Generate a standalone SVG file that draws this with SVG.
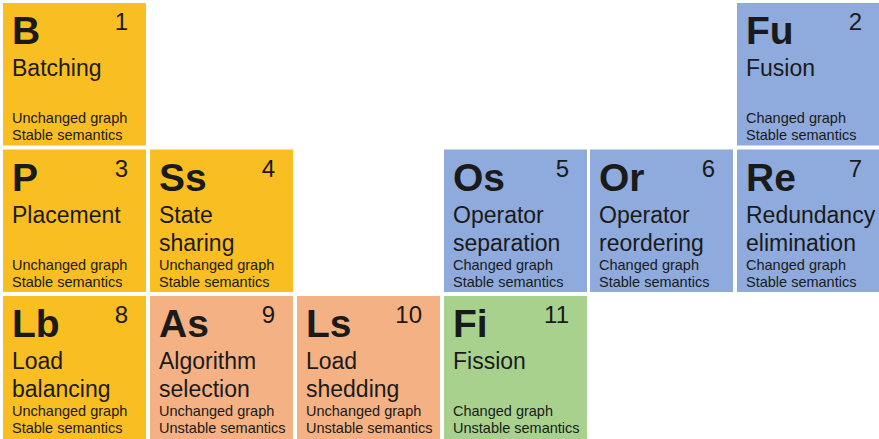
<svg xmlns="http://www.w3.org/2000/svg" width="879" height="439" viewBox="0 0 879 439">
<style>
.c{stroke:none}
.y{fill:#F9BE21}
.b{fill:#8FAADC}
.o{fill:#F4B183}
.g{fill:#A9D18E}
text{font-family:"Liberation Sans",Arial,sans-serif;fill:#1a1a1a}
.s{font-size:39px;font-weight:bold}
.n{font-size:24px;text-anchor:end}
.m{font-size:23px}
.t{font-size:14.5px}
</style>
<rect width="879" height="439" fill="#ffffff"/>
<g id="B" transform="translate(3,3)"><rect class="c y" width="143" height="142.5"/><text class="s" x="9" y="41">B</text><text class="n" x="125" y="27">1</text><text class="m" x="9" y="73">Batching</text><text class="t" x="9" y="120">Unchanged graph</text><text class="t" x="9" y="137">Stable semantics</text></g>
<g id="Fu" transform="translate(737,3)"><rect class="c b" width="142" height="142.5"/><text class="s" x="9" y="41">Fu</text><text class="n" x="125" y="27">2</text><text class="m" x="9" y="73">Fusion</text><text class="t" x="9" y="120">Changed graph</text><text class="t" x="9" y="137">Stable semantics</text></g>
<g id="P" transform="translate(3,149.5)"><rect class="c y" width="143" height="142.5"/><text class="s" x="9" y="41">P</text><text class="n" x="125" y="27">3</text><text class="m" x="9" y="73">Placement</text><text class="t" x="9" y="120">Unchanged graph</text><text class="t" x="9" y="137">Stable semantics</text></g>
<g id="Ss" transform="translate(150,149.5)"><rect class="c y" width="143" height="142.5"/><text class="s" x="9" y="41">Ss</text><text class="n" x="125" y="27">4</text><text class="m" x="9" y="73">State</text><text class="m" x="9" y="101">sharing</text><text class="t" x="9" y="120">Unchanged graph</text><text class="t" x="9" y="137">Stable semantics</text></g>
<g id="Os" transform="translate(444,149.5)"><rect class="c b" width="143" height="142.5"/><text class="s" x="9" y="41">Os</text><text class="n" x="125" y="27">5</text><text class="m" x="9" y="73">Operator</text><text class="m" x="9" y="101">separation</text><text class="t" x="9" y="120">Changed graph</text><text class="t" x="9" y="137">Stable semantics</text></g>
<g id="Or" transform="translate(590,149.5)"><rect class="c b" width="143" height="142.5"/><text class="s" x="9" y="41">Or</text><text class="n" x="125" y="27">6</text><text class="m" x="9" y="73">Operator</text><text class="m" x="9" y="101">reordering</text><text class="t" x="9" y="120">Changed graph</text><text class="t" x="9" y="137">Stable semantics</text></g>
<g id="Re" transform="translate(737,149.5)"><rect class="c b" width="142" height="142.5"/><text class="s" x="9" y="41">Re</text><text class="n" x="125" y="27">7</text><text class="m" x="9" y="73">Redundancy</text><text class="m" x="9" y="101">elimination</text><text class="t" x="9" y="120">Changed graph</text><text class="t" x="9" y="137">Stable semantics</text></g>
<g id="Lb" transform="translate(3,296)"><rect class="c y" width="143" height="143"/><text class="s" x="9" y="41">Lb</text><text class="n" x="125" y="27">8</text><text class="m" x="9" y="73">Load</text><text class="m" x="9" y="101">balancing</text><text class="t" x="9" y="120">Unchanged graph</text><text class="t" x="9" y="137">Stable semantics</text></g>
<g id="As" transform="translate(150,296)"><rect class="c o" width="143" height="143"/><text class="s" x="9" y="41">As</text><text class="n" x="125" y="27">9</text><text class="m" x="9" y="73">Algorithm</text><text class="m" x="9" y="101">selection</text><text class="t" x="9" y="120">Unchanged graph</text><text class="t" x="9" y="137">Unstable semantics</text></g>
<g id="Ls" transform="translate(297,296)"><rect class="c o" width="143" height="143"/><text class="s" x="9" y="41">Ls</text><text class="n" x="125" y="27">10</text><text class="m" x="9" y="73">Load</text><text class="m" x="9" y="101">shedding</text><text class="t" x="9" y="120">Unchanged graph</text><text class="t" x="9" y="137">Unstable semantics</text></g>
<g id="Fi" transform="translate(444,296)"><rect class="c g" width="143" height="143"/><text class="s" x="9" y="41">Fi</text><text class="n" x="125" y="27">11</text><text class="m" x="9" y="73">Fission</text><text class="t" x="9" y="120">Changed graph</text><text class="t" x="9" y="137">Unstable semantics</text></g>
<g id="connectors"/>
</svg>
